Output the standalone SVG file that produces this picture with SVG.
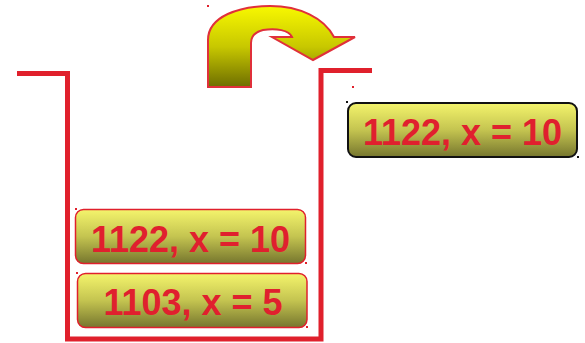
<svg xmlns="http://www.w3.org/2000/svg" width="585" height="343" viewBox="0 0 585 343">
  <defs>
    <linearGradient id="arrowGrad" x1="0" y1="0" x2="0" y2="1">
      <stop offset="0" stop-color="#f8f800"/>
      <stop offset="0.5" stop-color="#c8c800"/>
      <stop offset="1" stop-color="#6e6e00"/>
    </linearGradient>
    <linearGradient id="boxGrad" x1="0" y1="0" x2="0" y2="1">
      <stop offset="0" stop-color="#f4f46c"/>
      <stop offset="0.5" stop-color="#c4c450"/>
      <stop offset="1" stop-color="#76762e"/>
    </linearGradient>
  </defs>
  <style>
    .wall { fill: none; stroke: #e0202c; stroke-width: 5; stroke-linecap: butt; stroke-linejoin: miter; }
    .box-red { fill: url(#boxGrad); stroke: #e0202c; stroke-width: 1.5; }
    .box-black { fill: url(#boxGrad); stroke: #111; stroke-width: 2; }
    .lbl { font-family: "Liberation Sans", Arial, sans-serif; font-weight: bold; font-size: 36px; fill: #e0202e; text-anchor: middle; }
    .dot-red { fill: #e0202c; }
    .dot-black { fill: #111; }
  </style>

  <g id="container">
    <polyline class="wall" points="17,73.5 67.5,73.5 67.5,339 321,339 321,70.5 372,70.5"/>
  </g>

  <g id="connectors">
    <path id="pop-arrow" d="M208,87 L208,40 C208,16 240,6 270,6 C300,6 324,18 334,37 L355,37 L313,60 L272,37 L292,37 C289,30 276,28 263,30 C255,32 251,36 251,43 L251,87 Z" fill="url(#arrowGrad)" stroke="#e0303a" stroke-width="2" stroke-linejoin="miter"/>
  </g>

  <g id="popped-frame">
    <rect class="box-black" x="348" y="103" width="229" height="54" rx="8"/>
    <text class="lbl" x="462.5" y="145">1122, x = 10</text>
  </g>

  <g id="stack-frame-top">
    <rect class="box-red" x="75.5" y="209.5" width="230" height="54" rx="8"/>
    <text class="lbl" x="190.5" y="251.5">1122, x = 10</text>
  </g>

  <g id="stack-frame-bottom">
    <rect class="box-red" x="77.5" y="273.5" width="229.5" height="54" rx="8"/>
    <text class="lbl" x="193" y="315">1103, x = 5</text>
  </g>

  <g id="markers">
    <rect class="dot-red" x="207" y="5" width="2" height="2"/>
    <rect class="dot-red" x="352" y="86" width="2" height="2"/>
    <rect class="dot-black" x="346" y="101" width="2" height="2"/>
    <rect class="dot-black" x="577" y="156" width="2" height="2"/>
    <rect class="dot-red" x="75" y="208" width="2" height="2"/>
    <rect class="dot-red" x="305" y="262" width="2" height="2"/>
    <rect class="dot-red" x="76" y="272" width="2" height="2"/>
    <rect class="dot-red" x="306" y="326" width="2" height="2"/>
  </g>
</svg>
